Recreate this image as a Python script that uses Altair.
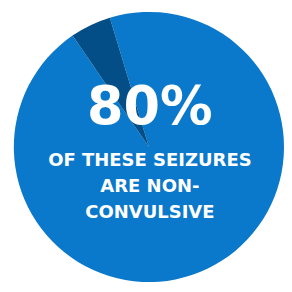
import math
import altair as alt
import pandas as pd

# Data
categories = ["Rest", "Wedge"]
shares = [95.1, 4.9]
order = [0, 1]
colors = ["#0a78cb", "#034e86"]

headline = "80%"
sub_lines = ["OF THESE SEIZURES", "ARE NON-", "CONVULSIVE"]

df = pd.DataFrame({"category": categories, "share": shares, "order": order})

start = math.radians(343.2)
W = 278
H = 278

pie = alt.Chart(df).mark_arc(radius=139, stroke=None).encode(
    theta=alt.Theta("share:Q", stack=True,
                    scale=alt.Scale(range=[start, start + 2 * math.pi])),
    color=alt.Color("category:N", legend=None,
                    scale=alt.Scale(domain=categories, range=colors)),
    order=alt.Order("order:Q"),
)

big = alt.Chart(df.head(1)).mark_text(
    text=headline, font="DejaVu Sans", fontWeight="bold", fontSize=54,
    color="white", align="center", baseline="alphabetic",
).encode(x=alt.value(140), y=alt.value(115))

sub = alt.Chart(df.head(1)).mark_text(
    text=sub_lines, font="DejaVu Sans", fontWeight="bold", fontSize=18.5,
    lineHeight=26.5, color="white", align="center", baseline="alphabetic",
).encode(x=alt.value(140), y=alt.value(159))

chart = alt.layer(pie, big, sub).properties(
    width=W, height=H,
    padding={"left": 6, "top": 0, "right": 0, "bottom": 0},
    autosize=alt.AutoSizeParams(type="none"),
    background="white",
).configure_view(stroke=None)

chart.save("out.html", embed_options={"renderer": "svg", "actions": False})
